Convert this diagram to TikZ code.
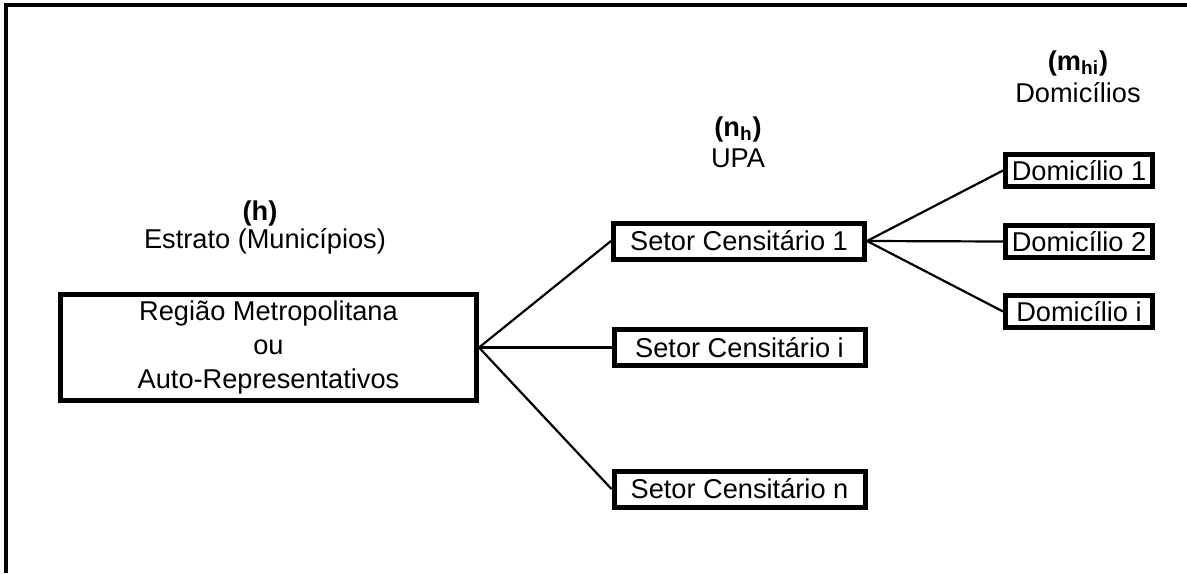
\documentclass[tikz,border=0pt]{standalone}
\usepackage{fontspec}
\setmainfont{Liberation Sans}
\begin{document}
\begin{tikzpicture}[x=0.5pt,y=-0.5pt,
  every node/.style={font=\fontsize{13.6}{15}\selectfont, inner sep=0pt},
  box/.style={draw, line width=2.5pt, align=center, fill=white},
  sbox/.style={box, minimum width=125.5pt, minimum height=18pt},
  dbox/.style={box, minimum width=73.5pt, minimum height=16pt},
  conn/.style={line width=1.1pt},
  frame/.style={line width=1.9pt}]
\useasboundingbox (0,0) rectangle (1187,573);
\coordinate (fb) at (6,573);
\coordinate (fc) at (6,5);
\coordinate (fr) at (1187,5);
\draw[frame] (fb) -- (fc) -- (fr);

\node[box, minimum width=208pt, minimum height=53pt,
  font=\fontsize{13.6}{17.2}\selectfont] (big) at (268.5,347.5)
  {Região Metropolitana\\ou\\Auto-Representativos};

\node[sbox] (s1) at (739,241) {Setor Censitário 1};
\node[sbox] (si) at (739.5,347.5) {Setor Censitário i};
\node[sbox] (sn) at (739.5,489) {Setor Censitário n};

\node[dbox] (d1) at (1079,170.5) {Domicílio 1};
\node[dbox] (d2) at (1079,241.5) {Domicílio 2};
\node[dbox] (di) at (1079,311.5) {Domicílio i};

\node (h1) at (260,213) {\textbf{(h)}};
\node (h2) at (265,241) {Estrato (Municípios)};
\node (n1) at (738,129) {\textbf{(n\textsubscript{h})}};
\node (n2) at (738,158) {UPA};
\node (m1) at (1078,63) {\textbf{(m\textsubscript{hi})}};
\node (m2) at (1078,93) {Domicílios};

\draw[conn] (big.east) -- (s1.west);
\draw[conn] (big.east) -- (si.west);
\draw[conn] (big.east) -- (sn.west);
\draw[conn] (s1.east) -- (d1.west);
\draw[conn] (s1.east) -- (d2.west);
\draw[conn] (s1.east) -- (di.west);
\end{tikzpicture}
\end{document}
